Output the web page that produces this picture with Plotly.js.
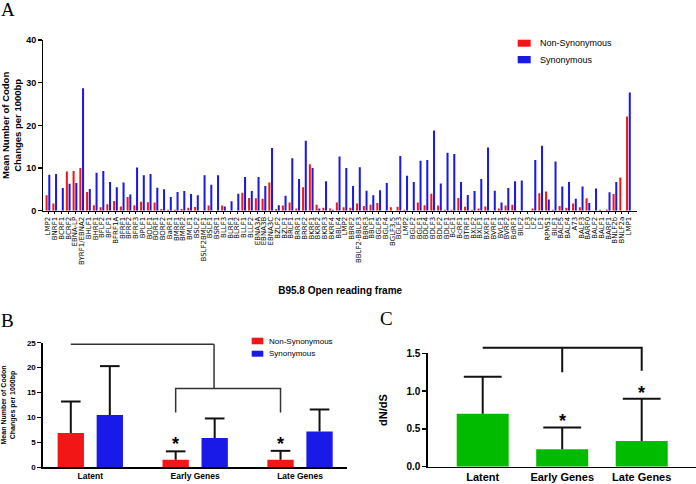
<!DOCTYPE html>
<html><head><meta charset="utf-8">
<script src="https://cdn.plot.ly/plotly-3.0.1.min.js"></script>
<style>html,body{margin:0;padding:0;background:#fff}#chart{width:696px;height:484px}</style>
</head><body><div id="chart"></div>
<script>
// ---------- DATA ----------
const orfLabels = ['LMP2','BNRF1','BCRF1','BCRF2','EBNA-LP','BYRF1/EBNA2','BHLF1','BHRF1','BFLF2','BFLF1',
  'BFRF1A','BFRF1','BFRF2','BFRF3','BPLF1','BOLF1','BORF1','BORF2','BaRF1','BMRF1',
  'BMRF2','BMLF1','BSLF2','BSLF2BMLF1','BSLF1','BSRF1','BLLF3','BLRF1','BLRF2','BLLF1',
  'BLLF2','EBNA3A','EBNA3B','EBNA3C','BZLF2','BZLF1','BRLF1','BRRF1','BRRF2','BKRF1',
  'BKRF2','BKRF3','BKRF4','BBLF4','LMP2','BBRF2','BBLF2-BBLF3','BBRF3','BBLF1','BGLF5',
  'BGLF4','BGLF3.5','BGLF3','LMP2','BGLF2','BGLF1','BDLF4','BDLF3','BDLF2','BDLF1',
  'BcLF1','BcRF1','BTRF1','BXLF2','BXLF1','BXRF1','BVRF1','BVLF1','BVRF2','BdRF1',
  'BILF2','LF3','LF2','LF1','RPMS1','BILF1','BALF5','BALF4','A73','BALF3',
  'BARF0','BALF2','BALF1','BARF1','BNLF2b','BNLF2a','LMP1'];
const nonSynonymous = [3.6,1.7,0,9.2,9.3,10.0,4.4,1.3,0.8,1.5,
  2.3,1.0,3.2,1.3,2.1,2.0,1.9,0.4,0.2,0.2,
  0.4,0.7,0.85,0,1.2,0,1.2,0,0,4.2,
  3.0,2.9,2.8,6.6,0.4,1.2,1.9,0.5,5.5,10.9,
  1.4,0.7,0.5,1.9,0.8,0.7,1.7,1.1,1.4,1.8,
  0,0.8,0.9,0.2,0,1.9,1.3,4.0,1.2,0.2,
  0.2,3.0,0.9,0.2,0.5,1.0,0,0.5,1.2,1.4,
  0,0,0.5,4.1,4.5,0.2,1.1,0.7,1.7,0.8,
  2.9,0,0.2,0.3,3.9,7.8,22.1];
const synonymous = [8.4,8.6,5.3,6.3,6.5,28.7,5.1,8.9,9.3,6.7,
  5.5,6.6,3.8,10.1,8.3,8.6,5.4,5.0,3.2,4.4,
  4.6,3.9,3.6,8.3,6.1,8.3,1.0,2.2,4.0,7.9,
  4.6,7.9,5.8,14.7,1.3,3.5,12.3,7.4,16.4,10.0,
  0.5,6.9,0.2,12.7,10.0,5.8,10.2,4.7,3.6,4.8,
  6.5,0,12.8,8.2,6.7,11.7,11.9,18.8,6.4,13.6,
  13.3,6.7,3.7,4.6,7.4,14.8,4.7,1.9,5.3,6.9,
  7.1,0,11.9,15.2,2.6,11.5,5.7,6.7,2.8,5.7,
  1.8,5.2,0,4.3,6.7,0,27.7];
const yTicksA = [0,10,20,30,40];

const groupLabels = ['Latent','Early Genes','Late Genes'];
const groupNonSyn = [6.9,1.5,1.5];
const groupNonSynErr = [6.3,1.7,1.8];
const groupSyn = [10.5,5.9,7.2];
const groupSynErr = [9.8,3.9,4.4];
const yTicksB = [0,5,10,15,20,25];

const dnds = [0.70,0.23,0.34];
const dndsErr = [0.49,0.29,0.56];
const yTicksC = [0,0.5,1,1.5];
const yTickTextC = ['0.0','0.5','1.0','1.5'];

// ---------- STYLE / GEOMETRY ----------
const W = 696, H = 484;
const dx = p => p / W, dy = p => 1 - p / H;
const RED = '#f21616', BLUE = '#1a1ae8', GREEN = '#00bb00';
const SANS = 'Liberation Sans, Arial, sans-serif';
const SERIF = 'Liberation Serif, Times New Roman, serif';
const idx = orfLabels.map((_, i) => i);
const gIdx = groupLabels.map((_, i) => i);

const X3D = [dx(427.7), 1], X3R = [-0.692, 2.683];
const Y3D = [dy(466.7), dy(353.3)], Y3R = [0, 1.5];
const p3x = v => X3D[0] + (v - X3R[0]) / (X3R[1] - X3R[0]) * (X3D[1] - X3D[0]);
const p3y = v => Y3D[0] + (v - Y3R[0]) / (Y3R[1] - Y3R[0]) * (Y3D[1] - Y3D[0]);

const BW = 0.251, BOFF_R = -0.3115, BOFF_B = 0.0605;
const redCenterB = BOFF_R + BW / 2, blueCenterB = BOFF_B + BW / 2;

const errStyle = arr => ({type: 'data', array: arr, arrayminus: arr.map(() => 0),
  symmetric: false, visible: true, color: '#111', thickness: 2, width: 0});
const capTrace = (xs, vals, errs, xa, ya, size) => ({
  type: 'scatter', mode: 'markers', xaxis: xa, yaxis: ya, showlegend: false, hoverinfo: 'skip',
  x: xs, y: vals.map((v, i) => v + errs[i]), cliponaxis: false,
  marker: {symbol: 'line-ew', size: size, color: '#111', line: {color: '#111', width: 2}}
});

const traces = [
  {type: 'bar', x: idx, y: nonSynonymous, xaxis: 'x', yaxis: 'y', name: 'Non-Synonymous',
   width: 0.3, offset: -0.36, marker: {color: RED, line: {width: 0}}, showlegend: false},
  {type: 'bar', x: idx, y: synonymous, xaxis: 'x', yaxis: 'y', name: 'Synonymous',
   width: 0.3, offset: 0.04, marker: {color: BLUE, line: {width: 0}}, showlegend: false},
  {type: 'bar', x: gIdx, y: groupNonSyn, xaxis: 'x2', yaxis: 'y2', name: 'Non-Synonymous',
   width: BW, offset: BOFF_R, marker: {color: RED, line: {width: 0}}, showlegend: false,
   error_y: errStyle(groupNonSynErr)},
  {type: 'bar', x: gIdx, y: groupSyn, xaxis: 'x2', yaxis: 'y2', name: 'Synonymous',
   width: BW, offset: BOFF_B, marker: {color: BLUE, line: {width: 0}}, showlegend: false,
   error_y: errStyle(groupSynErr)},
  capTrace(gIdx.map(i => i + redCenterB), groupNonSyn, groupNonSynErr, 'x2', 'y2', 14),
  capTrace(gIdx.map(i => i + blueCenterB), groupSyn, groupSynErr, 'x2', 'y2', 14),
  {type: 'bar', x: gIdx, y: dnds, xaxis: 'x3', yaxis: 'y3', name: 'dN/dS',
   width: 0.654, offset: -0.327, marker: {color: GREEN, line: {width: 0}}, showlegend: false,
   error_y: errStyle(dndsErr)},
  capTrace(gIdx, dnds, dndsErr, 'x3', 'y3', 27)
];

const baseAxis = {showgrid: false, zeroline: false, showline: true, linecolor: '#000',
  linewidth: 1.3, fixedrange: true};

const layout = {
  width: W, height: H, margin: {l: 0, r: 0, t: 0, b: 0},
  paper_bgcolor: '#fff', plot_bgcolor: 'rgba(0,0,0,0)', barmode: 'overlay', showlegend: false,
  font: {family: SANS, color: '#000'},
  xaxis: Object.assign({}, baseAxis, {domain: [dx(43.3), dx(637)], range: [-0.7, 87.26], anchor: 'y',
    tickmode: 'array', tickvals: idx, ticktext: orfLabels, tickangle: -90,
    ticks: 'outside', ticklen: 2, tickwidth: 1, tickcolor: '#000',
    tickfont: {size: 7, family: 'DejaVu Sans, sans-serif', color: '#000'},
    title: {text: 'B95.8 Open reading frame', font: {size: 10, family: SANS, weight: 'bold'}, standoff: 23}}),
  yaxis: Object.assign({}, baseAxis, {domain: [dy(210.7), dy(40)], range: [0, 40], anchor: 'x',
    tickmode: 'array', tickvals: yTicksA, ticks: 'outside', ticklen: 4, tickwidth: 1.3, tickcolor: '#000',
    tickfont: {size: 9, family: SANS, weight: 'bold'},
    title: {text: 'Mean Number of Codon<br>Changes per 1000bp', font: {size: 9.5, family: SANS, weight: 'bold'}, standoff: 9}}),
  xaxis2: Object.assign({}, baseAxis, {domain: [dx(42.7), dx(346.7)], range: [-0.454, 2.445], anchor: 'y2',
    tickmode: 'array', tickvals: gIdx, ticktext: groupLabels, ticks: '',
    tickfont: {size: 8.5, family: SANS, weight: 'bold'}}),
  yaxis2: Object.assign({}, baseAxis, {domain: [dy(467.3), dy(342.7)], range: [0, 25], anchor: 'x2',
    tickmode: 'array', tickvals: yTicksB, ticks: 'outside', ticklen: 4, tickwidth: 1.3, tickcolor: '#000',
    tickfont: {size: 8, family: SANS, weight: 'bold'},
    title: {text: 'Mean Number of Codon<br>Changes per 1000bp', font: {size: 7, family: SANS, weight: 'bold'}, standoff: 15}}),
  xaxis3: Object.assign({}, baseAxis, {domain: X3D, range: X3R, anchor: 'y3',
    tickmode: 'array', tickvals: gIdx, ticktext: groupLabels, ticks: '',
    tickfont: {size: 11, family: SANS, weight: 'bold'}}),
  yaxis3: Object.assign({}, baseAxis, {domain: Y3D, range: Y3R, anchor: 'x3',
    tickmode: 'array', tickvals: yTicksC, ticktext: yTickTextC, ticks: 'outside', ticklen: 4, tickwidth: 1.3, tickcolor: '#000',
    tickfont: {size: 10, family: SANS, weight: 'bold'},
    title: {text: 'dN/dS', font: {size: 11, family: SANS, weight: 'bold'}, standoff: 16}}),
  shapes: [
    {type: 'rect', xref: 'paper', yref: 'paper', x0: dx(517.7), x1: dx(530.7), y0: dy(46.7), y1: dy(39.7), fillcolor: RED, line: {width: 0}},
    {type: 'rect', xref: 'paper', yref: 'paper', x0: dx(517.7), x1: dx(530.7), y0: dy(63.3), y1: dy(56), fillcolor: BLUE, line: {width: 0}},
    {type: 'rect', xref: 'paper', yref: 'paper', x0: dx(251.7), x1: dx(263.3), y0: dy(344.3), y1: dy(337.7), fillcolor: RED, line: {width: 0}},
    {type: 'rect', xref: 'paper', yref: 'paper', x0: dx(251.7), x1: dx(263.3), y0: dy(356.7), y1: dy(350.7), fillcolor: BLUE, line: {width: 0}},
    {type: 'path', xref: 'x2', yref: 'y2',
     path: `M${redCenterB},24.7 L1.18,24.7 M1.18,24.7 L1.18,15.8 M${1 + redCenterB},11 L${1 + redCenterB},15.8 L${2 + redCenterB},15.8 L${2 + redCenterB},11`,
     line: {color: '#333', width: 1.5}},
    {type: 'path', xref: 'paper', yref: 'paper',
     path: `M${p3x(0)},${p3y(1.575)} L${p3x(2)},${p3y(1.575)} L${p3x(2)},${p3y(1.27)} M${p3x(1)},${p3y(1.575)} L${p3x(1)},${p3y(1.25)}`,
     line: {color: '#111', width: 2}}
  ],
  annotations: [
    {text: 'A', xref: 'paper', yref: 'paper', x: dx(8.3), y: dy(9.5), xanchor: 'center', yanchor: 'middle', showarrow: false, font: {family: SERIF, size: 19}},
    {text: 'B', xref: 'paper', yref: 'paper', x: dx(7.5), y: dy(320), xanchor: 'center', yanchor: 'middle', showarrow: false, font: {family: SERIF, size: 19}},
    {text: 'C', xref: 'paper', yref: 'paper', x: dx(386.7), y: dy(318.3), xanchor: 'center', yanchor: 'middle', showarrow: false, font: {family: SERIF, size: 19}},
    {text: 'Non-Synonymous', xref: 'paper', yref: 'paper', x: dx(537.7), y: dy(43.3), xanchor: 'left', yanchor: 'middle', showarrow: false, font: {size: 9}},
    {text: 'Synonymous', xref: 'paper', yref: 'paper', x: dx(537.7), y: dy(59.5), xanchor: 'left', yanchor: 'middle', showarrow: false, font: {size: 9}},
    {text: 'Non-Synonymous', xref: 'paper', yref: 'paper', x: dx(266.7), y: dy(341), xanchor: 'left', yanchor: 'middle', showarrow: false, font: {size: 8}},
    {text: 'Synonymous', xref: 'paper', yref: 'paper', x: dx(266.7), y: dy(353.7), xanchor: 'left', yanchor: 'middle', showarrow: false, font: {size: 8}},
    {text: '*', xref: 'x2', yref: 'y2', x: 1 + redCenterB, y: 4.6, xanchor: 'center', yanchor: 'middle', showarrow: false, font: {size: 18, weight: 'bold'}},
    {text: '*', xref: 'x2', yref: 'y2', x: 2 + redCenterB, y: 4.6, xanchor: 'center', yanchor: 'middle', showarrow: false, font: {size: 18, weight: 'bold'}},
    {text: '*', xref: 'x3', yref: 'y3', x: 1, y: 0.61, xanchor: 'center', yanchor: 'middle', showarrow: false, font: {size: 18, weight: 'bold'}},
    {text: '*', xref: 'x3', yref: 'y3', x: 2, y: 0.975, xanchor: 'center', yanchor: 'middle', showarrow: false, font: {size: 18, weight: 'bold'}}
  ]
};

Plotly.newPlot('chart', traces, layout, {staticPlot: true, displayModeBar: false});
</script>
</body></html>
